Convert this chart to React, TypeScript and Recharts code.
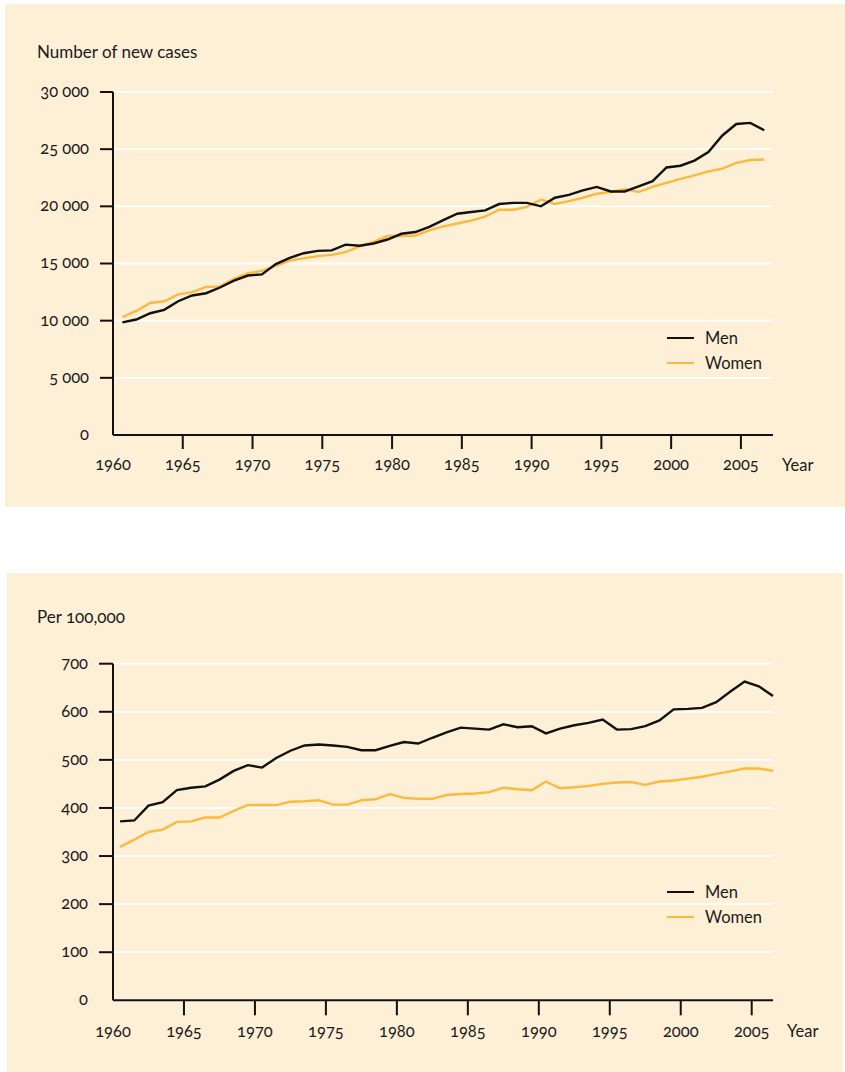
import React from 'react';
import { LineChart, Line, XAxis, YAxis, CartesianGrid, Legend } from 'recharts';

// ---- Data ----
const years = [1961, 1962, 1963, 1964, 1965, 1966, 1967, 1968, 1969, 1970, 1971, 1972, 1973, 1974, 1975, 1976, 1977, 1978, 1979, 1980, 1981, 1982, 1983, 1984, 1985, 1986, 1987, 1988, 1989, 1990, 1991, 1992, 1993, 1994, 1995, 1996, 1997, 1998, 1999, 2000, 2001, 2002, 2003, 2004, 2005, 2006, 2007];

const casesMen = [9850, 10100, 10650, 10950, 11700, 12200, 12400, 12900, 13500, 13950, 14050, 14950, 15500, 15900, 16100, 16150, 16650, 16550, 16750, 17100, 17600, 17750, 18200, 18800, 19350, 19500, 19650, 20200, 20300, 20300, 20000, 20750, 21000, 21400, 21700, 21300, 21300, 21750, 22200, 23400, 23550, 24000, 24750, 26200, 27200, 27300, 26650];
const casesWomen = [10300, 10850, 11550, 11700, 12300, 12500, 12950, 13000, 13650, 14150, 14350, 14800, 15250, 15450, 15650, 15750, 16000, 16500, 16900, 17400, 17400, 17450, 17900, 18250, 18500, 18750, 19100, 19700, 19700, 19950, 20600, 20200, 20450, 20750, 21100, 21250, 21500, 21250, 21700, 22050, 22400, 22700, 23050, 23300, 23800, 24050, 24100];

const rateMen = [372, 374, 405, 412, 437, 442, 445, 459, 477, 489, 484, 504, 519, 530, 532, 530, 527, 520, 520, 529, 537, 534, 546, 557, 567, 565, 563, 574, 568, 570, 555, 565, 572, 577, 584, 563, 564, 570, 582, 605, 606, 608, 620, 642, 663, 653, 633];
const rateWomen = [319, 334, 350, 355, 371, 372, 380, 380, 394, 406, 406, 406, 413, 414, 416, 407, 407, 416, 418, 429, 421, 419, 419, 427, 429, 430, 433, 442, 439, 437, 455, 441, 443, 446, 450, 453, 454, 448, 455, 457, 461, 465, 471, 476, 482, 482, 477];

const yearTicks = [1960, 1965, 1970, 1975, 1980, 1985, 1990, 1995, 2000, 2005];
const casesTicks = [0, 5000, 10000, 15000, 20000, 25000, 30000];
const rateTicks = [0, 100, 200, 300, 400, 500, 600, 700];

// plotting position of each yearly value within the year on the time axis
const casesShift = -0.33;
const rateShift = -0.5;

const casesData = years.map((y, i) => ({ t: y + casesShift, men: casesMen[i], women: casesWomen[i] }));
const rateData = years.map((y, i) => ({ t: y + rateShift, men: rateMen[i], women: rateWomen[i] }));

const BG = '#FEEFD7';
const BLACK = '#111111';
const ORANGE = '#FBBA3E';
const TEXT = '#1a1a1a';
const FONT = 'Lato, "Open Sans", sans-serif';
const TICK_FS = 16.5;

const fmtCases = (v: number) => (v === 0 ? '0' : String(v).replace(/\B(?=(\d{3})+(?!\d))/g, ' '));

const makeYTick = (tickSize: number, tickMargin: number, fmt: (v: number) => string) => (props: any) => {
  const { x, y, payload } = props;
  const lx1 = x + tickMargin;
  return (
    <g>
      {payload.value !== 0 && (
        <line x1={lx1} y1={y} x2={lx1 + tickSize} y2={y} stroke={BLACK} strokeWidth={2} />
      )}
      <text x={x} y={y} dy="0.3em" textAnchor="end" fill={TEXT} fontSize={TICK_FS}>
        {fmt(payload.value)}
      </text>
    </g>
  );
};

const makeXTick = (tickSize: number, tickMargin: number) => (props: any) => {
  const { x, y, payload } = props;
  const top = y - tickMargin - tickSize;
  return (
    <g>
      {payload.value !== 1960 && (
        <line x1={x} y1={top} x2={x} y2={top + tickSize} stroke={BLACK} strokeWidth={2} />
      )}
      <text x={x} y={y} dy="0.68em" textAnchor="middle" fill={TEXT} fontSize={TICK_FS}>
        {payload.value}
      </text>
    </g>
  );
};

const LegendBox = (props: any) => {
  const { payload } = props;
  return (
    <div style={{ fontFamily: FONT }}>
      {(payload || []).map((p: any) => (
        <div key={p.value} style={{ display: 'flex', alignItems: 'center', height: 25 }}>
          <span style={{ display: 'inline-block', width: 27, height: 2.6, background: p.color, marginRight: 11 }} />
          <span style={{ fontSize: 16.5, lineHeight: '16px', color: TEXT }}>{p.value}</span>
        </div>
      ))}
    </div>
  );
};

const labelStyle: React.CSSProperties = {
  position: 'absolute',
  fontSize: 17,
  lineHeight: '16px',
  color: TEXT,
  whiteSpace: 'nowrap',
};

export default function App() {
  return (
    <div
      style={{
        position: 'absolute',
        left: 0,
        top: 0,
        width: 845,
        height: 1072,
        background: '#ffffff',
        fontFamily: FONT,
        fontVariantNumeric: 'oldstyle-nums',
        overflow: 'hidden',
      }}
    >
      {/* Panel 1 */}
      <div style={{ position: 'absolute', left: 5, top: 4, width: 840, height: 503, background: BG }}>
        <div style={{ ...labelStyle, left: 32, top: 40 }}>Number of new cases</div>
        <div style={{ ...labelStyle, left: 777, top: 452.5, fontSize: 16.5 }}>Year</div>
        <LineChart width={840} height={503} data={casesData} margin={{ top: 88, right: 72, left: 0, bottom: 32 }}>
          <CartesianGrid vertical={false} stroke="#ffffff" strokeWidth={1.8} />
          <XAxis
            dataKey="t"
            type="number"
            domain={[1960, 2007.3]}
            ticks={yearTicks}
            axisLine={{ stroke: BLACK, strokeWidth: 2 }}
            tickLine={false}
            tickSize={14}
            tickMargin={10}
            height={40}
            interval={0}
            tick={makeXTick(14, 10)}
          />
          <YAxis
            type="number"
            domain={[0, 30000]}
            ticks={casesTicks}
            width={108}
            axisLine={{ stroke: BLACK, strokeWidth: 2 }}
            tickLine={false}
            tickSize={13}
            tickMargin={11}
            interval={0}
            tick={makeYTick(13, 11, fmtCases)}
          />
          <Legend
            layout="vertical"
            verticalAlign="middle"
            align="center"
            content={LegendBox}
            wrapperStyle={{ left: 662, top: 321.5, width: 140 }}
          />
          <Line type="linear" dataKey="women" name="Women" stroke={ORANGE} strokeWidth={2.4} dot={false} isAnimationActive={false} legendType="line" />
          <Line type="linear" dataKey="men" name="Men" stroke={BLACK} strokeWidth={2.4} dot={false} isAnimationActive={false} legendType="line" />
        </LineChart>
      </div>

      {/* Panel 2 */}
      <div style={{ position: 'absolute', left: 7, top: 573, width: 836, height: 499, background: BG }}>
        <div style={{ ...labelStyle, left: 30, top: 36 }}>Per 100,000</div>
        <div style={{ ...labelStyle, left: 780, top: 449.5, fontSize: 16.5 }}>Year</div>
        <LineChart width={836} height={499} data={rateData} margin={{ top: 90.7, right: 70, left: 0, bottom: 31.7 }}>
          <CartesianGrid vertical={false} stroke="#ffffff" strokeWidth={1.8} />
          <XAxis
            dataKey="t"
            type="number"
            domain={[1960, 2006.46]}
            ticks={yearTicks}
            axisLine={{ stroke: BLACK, strokeWidth: 2 }}
            tickLine={false}
            tickSize={15}
            tickMargin={10}
            height={40}
            interval={0}
            tick={makeXTick(15, 10)}
          />
          <YAxis
            type="number"
            domain={[0, 700]}
            ticks={rateTicks}
            width={106}
            axisLine={{ stroke: BLACK, strokeWidth: 2 }}
            tickLine={false}
            tickSize={14}
            tickMargin={11}
            interval={0}
            tick={makeYTick(14, 11, (v) => String(v))}
          />
          <Legend
            layout="vertical"
            verticalAlign="middle"
            align="center"
            content={LegendBox}
            wrapperStyle={{ left: 660, top: 306.5, width: 140 }}
          />
          <Line type="linear" dataKey="women" name="Women" stroke={ORANGE} strokeWidth={2.4} dot={false} isAnimationActive={false} legendType="line" />
          <Line type="linear" dataKey="men" name="Men" stroke={BLACK} strokeWidth={2.4} dot={false} isAnimationActive={false} legendType="line" />
        </LineChart>
      </div>
    </div>
  );
}
